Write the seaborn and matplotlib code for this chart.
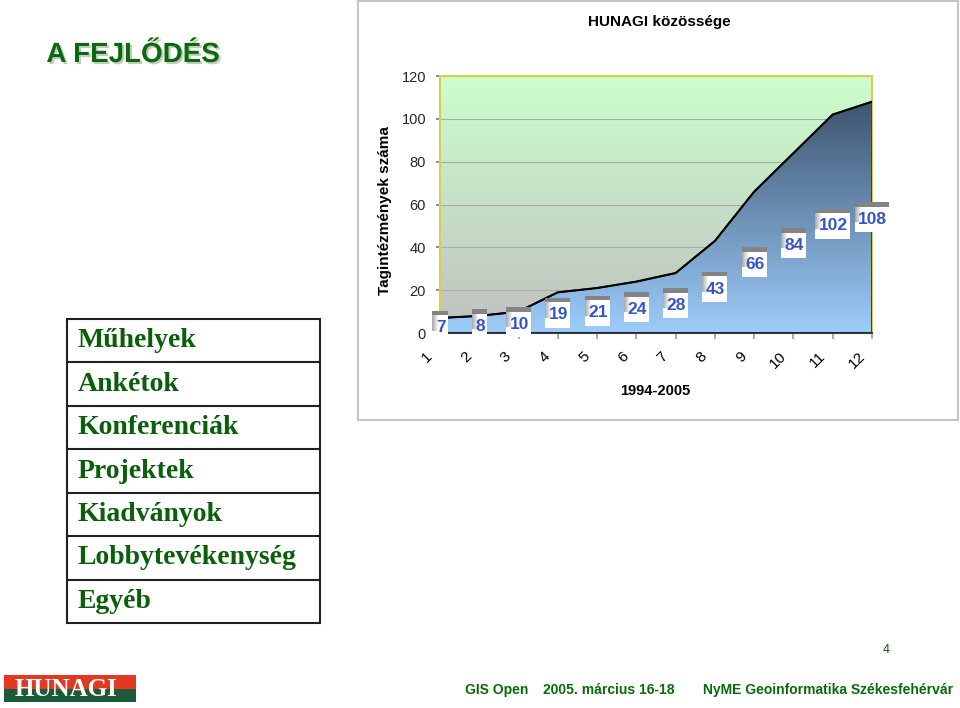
import numpy as np
import pandas as pd
import matplotlib
matplotlib.use("Agg")
import matplotlib.pyplot as plt
import seaborn as sns
from matplotlib.patches import Rectangle
from matplotlib.transforms import ScaledTranslation
from matplotlib.colors import LinearSegmentedColormap
import matplotlib.patheffects as pe

# ---- data ----
years = [1, 2, 3, 4, 5, 6, 7, 8, 9, 10, 11, 12]
members = [7, 8, 10, 19, 21, 24, 28, 43, 66, 84, 102, 108]
y_ticks = [0, 20, 40, 60, 80, 100, 120]
chart_title = "HUNAGI közössége"
x_label = "1994-2005"
y_label = "Tagintézmények száma"
slide_title = "A FEJLŐDÉS"
activities = ["Műhelyek", "Ankétok", "Konferenciák", "Projektek",
              "Kiadványok", "Lobbytevékenység", "Egyéb"]
footer_items = ["GIS Open", "2005. március 16-18", "NyME Geoinformatika Székesfehérvár"]
page_number = "4"

df = pd.DataFrame({"year": years, "members": members})

sns.set_theme(style="white")
plt.rcParams["font.family"] = ["Liberation Sans", "DejaVu Sans"]

W, H = 960, 708
fig = plt.figure(figsize=(W / 100, H / 100), dpi=100)
fig.patch.set_facecolor("white")

def fx(px):
    return px / W

def fy(py):
    return 1 - py / H

# ---- chart panel border ----
fig.add_artist(Rectangle((fx(358), fy(420)), fx(958) - fx(358), fy(1) - fy(420),
                         transform=fig.transFigure, fill=False,
                         edgecolor="#c4c4c4", lw=1.5, zorder=0))

# ---- main chart ----
ax = fig.add_axes([fx(440), fy(333), fx(872) - fx(440), fy(76) - fy(333)])
ax.set_xlim(1, 12)
ax.set_ylim(0, 120)

# background gradient (green top -> gray bottom)
bg_cmap = LinearSegmentedColormap.from_list("bg", ["#c0c0c0", "#ccffcc"])
grad = np.linspace(0, 1, 256).reshape(-1, 1)
ax.imshow(grad, cmap=bg_cmap, aspect="auto", extent=[1, 12, 0, 120],
          origin="lower", zorder=0)

# gridlines
for t in y_ticks[1:-1]:
    ax.axhline(t, color="#a4b0a4", lw=0.8, zorder=1)

# area with vertical gradient
area = ax.fill_between(df["year"], 0, df["members"], facecolor="none",
                       edgecolor="#1c2430", lw=1.2, zorder=3)
area_cmap = LinearSegmentedColormap.from_list("area", ["#9dcdfb", "#3d5470"])
im = ax.imshow(grad, cmap=area_cmap, aspect="auto",
               extent=[1, 12, 0, max(members)], origin="lower", zorder=2)
path = area.get_paths()[0]
im.set_clip_path(path, transform=ax.transData)

sns.lineplot(data=df, x="year", y="members", color="black", lw=1.5,
             ax=ax, zorder=4)

# spines
for side in ["left", "top", "right"]:
    ax.spines[side].set_color("#dccc50")
    ax.spines[side].set_linewidth(1.5)
ax.spines["bottom"].set_color("#404040")
ax.spines["bottom"].set_linewidth(1.5)

ax.set_yticks(y_ticks)
ax.set_yticklabels([str(t) for t in y_ticks], fontsize=10.5)
ax.set_xticks(years)
ax.set_xticklabels([])
ax.tick_params(axis="y", length=3, color="#808080", pad=7)
ax.tick_params(axis="x", length=4, color="#a0a0a0", direction="out")
ax.tick_params(bottom=True, left=True)
ax.set_xlabel("")
ax.set_ylabel("")

# rotated x tick labels, placed below-left of each tick like the original
xtrans = ax.get_xaxis_transform()
for xi in years:
    s = str(xi)
    n = len(s)
    off = ScaledTranslation((-11 - 2 * n) / 100, (-21 - 3 * n) / 100, fig.dpi_scale_trans)
    ax.text(xi, 0, s, transform=xtrans + off, rotation=45, ha="center",
            va="center", fontsize=11, color="black", clip_on=False)

# data labels
for xi, v in zip(years, members):
    s = str(v)
    w = (9.5 * len(s) + 6) / 100
    h = 30 / 100
    trans = fig.dpi_scale_trans + ScaledTranslation(xi, v / 2, ax.transData)
    ax.add_patch(Rectangle((-w / 2, -h / 2), w, h, transform=trans,
                           facecolor="white", edgecolor="none", zorder=6, clip_on=False))
    # soft left shading
    n = 6
    for k in range(n):
        g = 0.68 + 0.32 * k / n
        ax.add_patch(Rectangle((-w / 2 + k * 0.01, -h / 2 + 0.10), 0.01, h - 0.14,
                               transform=trans, facecolor=(g, g, g),
                               edgecolor="none", zorder=6, clip_on=False))
    ax.add_patch(Rectangle((-w / 2, h / 2 - 0.045), w, 0.045, transform=trans,
                           facecolor="#838383", edgecolor="none", zorder=7, clip_on=False))
    ax.annotate(s, (xi, v / 2), xytext=(0.5, -1.5), textcoords="offset points",
                ha="center", va="center", fontsize=12.5, fontweight="bold",
                color="#3656c8", zorder=8, annotation_clip=False)

# chart texts
fig.text(fx(659), fy(22), chart_title, ha="center", va="center",
         fontsize=11, fontweight="bold", color="black")
fig.text(fx(655), fy(391), x_label, ha="center", va="center",
         fontsize=10.5, fontweight="bold", color="black")
fig.text(fx(385), fy(211), y_label, ha="center", va="center", rotation=90,
         fontsize=11, fontweight="bold", color="black")

# ---- slide title ----
fig.text(fx(133), fy(55), slide_title, ha="center", va="center",
         fontsize=20, fontweight="bold", color="#0a6a0a",
         path_effects=[pe.withSimplePatchShadow(offset=(1.5, -1.5),
                                                shadow_rgbFace="#909090", alpha=0.5)])

# ---- activity table ----
tax = fig.add_axes([fx(67), fy(623), fx(320) - fx(67), fy(319) - fy(623)])
tax.set_xlim(0, 1)
tax.set_ylim(len(activities), 0)
tax.axis("off")
tax.add_patch(Rectangle((0, 0), 1, len(activities), fill=False,
                        edgecolor="#202020", lw=1.5, clip_on=False))
for i, name in enumerate(activities):
    if i > 0:
        tax.plot([0, 1], [i, i], color="#202020", lw=1.5, clip_on=False)
    tax.text(11 / 253, i + 0.5, name, ha="left", va="center",
             fontsize=20, fontweight="bold", color="#0b5e0b",
             family=["Liberation Serif", "DejaVu Serif"])

# ---- logo ----
lax = fig.add_axes([fx(4), fy(702), fx(136) - fx(4), fy(675) - fy(702)])
lax.set_xlim(0, 1)
lax.set_ylim(0, 1)
lax.axis("off")
lax.add_patch(Rectangle((0, 0.5), 1, 0.5, facecolor="#e23a20", edgecolor="none"))
lax.add_patch(Rectangle((0, 0), 1, 0.5, facecolor="#1c5a3a", edgecolor="none"))
lax.text(0.47, 0.45, "HUNAGI", ha="center", va="center", fontsize=18,
         fontweight="bold", color="white", family=["Liberation Serif", "DejaVu Serif"])

# ---- footer ----
footer_x = [465, 543, 703]
for px, txt in zip(footer_x, footer_items):
    fig.text(fx(px), fy(690), txt, ha="left", va="center", fontsize=10,
             fontweight="bold", color="#0a6a0a")
fig.text(fx(886), fy(650), page_number, ha="center", va="center",
         fontsize=9, color="#0a5a0a")

fig.savefig("out.png", dpi=100, facecolor="white")
